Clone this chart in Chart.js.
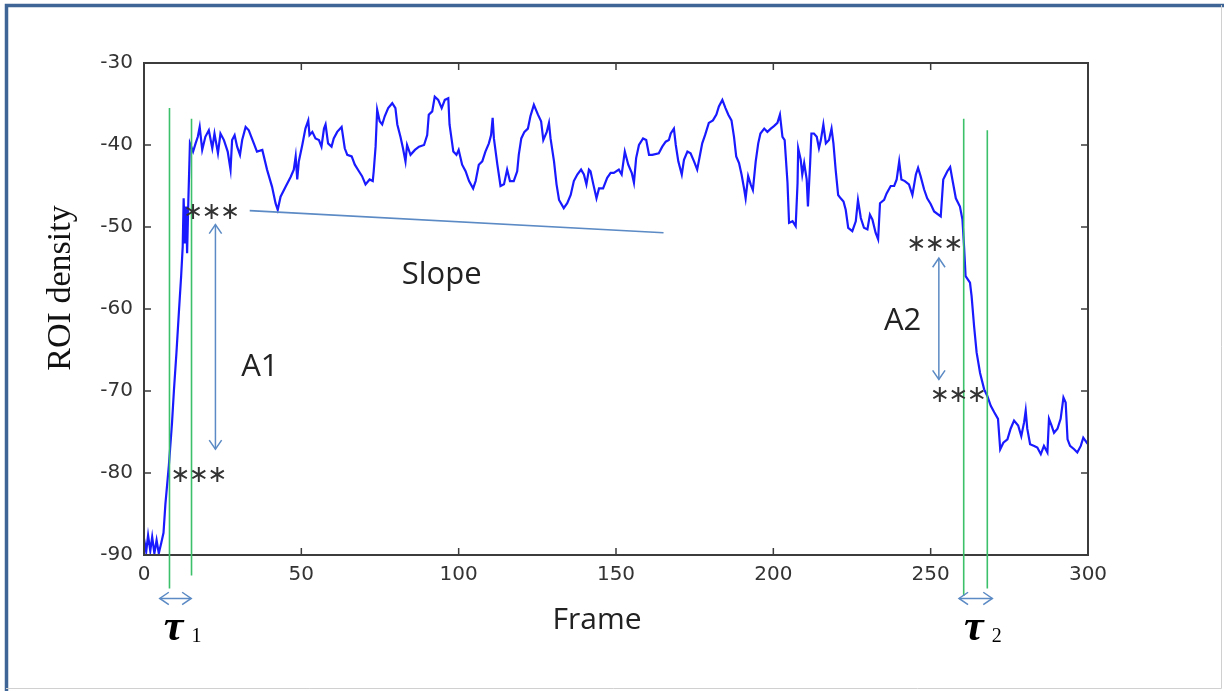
<!DOCTYPE html>
<html>
<head>
<meta charset="utf-8">
<script src="https://cdn.jsdelivr.net/npm/chart.js@4.4.0/dist/chart.umd.min.js"></script>
<style>
  html, body { margin: 0; padding: 0; background: #fff; }
  canvas { display: block; }
</style>
</head>
<body>
<canvas id="roi" width="1226" height="691"></canvas>
<script>
// ROI density trace (frame, value)
const frames = [
  0, 0.7, 1.3, 2, 2.6, 3.3, 4, 4.7, 5.5, 6.2, 6.8, 7.9, 8.9, 9.5, 10.3, 11.1, 11.8, 12.3, 12.6, 13.0,
  13.4, 13.7, 14.1, 14.6, 15.6, 16.4, 17.1, 17.7, 18.5, 19.5, 20.6, 21.7, 22.4, 23.5, 24.3, 25.4, 26.6, 27.5, 28, 28.8,
  29.6, 30.5, 31.2, 32.3, 33.3, 34.9, 35.9, 37.6, 39.1, 40.7, 41.8, 42.5, 43.4, 45, 46.6, 47.6, 48.2, 48.7, 49.2, 50.3,
  51.3, 52.2, 52.6, 53.5, 54.5, 55.6, 56.4, 57.2, 57.7, 58.5, 59.6, 60.3, 61.4, 62.8, 63.8, 64.6, 66, 67, 68.3, 69.3,
  70.4, 71.7, 72.7, 73, 73.6, 74.1, 74.9, 75.7, 76.5, 77.6, 78.9, 79.9, 80.5, 81.5, 82.3, 83.1, 83.6, 84.7, 86.1, 87.4,
  89, 90, 90.5, 91.6, 92.4, 93.5, 94.6, 95.6, 96.7, 97.1, 98.3, 99.3, 100, 101.1, 102.2, 103.3, 104.6, 105.4, 106.4, 107.5,
  108.5, 109.6, 110.3, 110.8, 111.2, 112.3, 113.3, 114.4, 115.4, 116.3, 117.5, 118.6, 119.1, 119.9, 120.9, 122, 122.8, 123.9, 125.2, 126.2,
  126.9, 128, 128.7, 129.2, 130.3, 131.1, 131.9, 133.4, 134.5, 135.6, 136.6, 137.7, 138.9, 139.8, 140.6, 141.4, 141.9, 142.8, 143.8, 144.6,
  145.9, 147.2, 148.3, 149.3, 150.9, 151.8, 152.8, 153.9, 155, 155.7, 156.4, 157.3, 158.6, 159.6, 160.5, 161.5, 163.6, 164.7, 165.8, 166.8,
  167.4, 168.4, 169, 169.8, 170.9, 171.6, 172.7, 173.7, 174.8, 175.8, 176.6, 177.4, 178.3, 179.5, 180.8, 181.9, 182.7, 183.8, 184.8, 185.7,
  186.7, 187.5, 188.2, 189.1, 189.9, 190.7, 191.2, 192, 192.8, 193.5, 194.4, 195.2, 195.9, 197.1, 198.1, 199.2, 200.2, 201.3, 202.1, 202.9,
  203.6, 204.5, 205, 206.1, 207.1, 207.7, 207.9, 208.7, 209.2, 209.8, 210.6, 211, 211.7, 212.1, 212.9, 213.8, 214.5, 215.1, 215.9, 216.7,
  217.7, 218.5, 219.1, 219.8, 220.6, 221.4, 222.3, 223, 223.8, 225.1, 226.2, 226.9, 227.8, 228.8, 229.9, 230.7, 231.5, 232.5, 233.3, 233.9,
  235.2, 236, 237.3, 238.4, 239.2, 240, 240.7, 241.8, 243.1, 244.2, 245.3, 246, 246.8, 247.9, 248.9, 250, 251.1, 253.2, 254, 255.3,
  256.2, 256.9, 258, 259.3, 260.1, 260.6, 261.1, 262.5, 263, 263.8, 264.6, 265.7, 267, 268, 269.1, 270.2, 271.4, 272.1, 273.1, 274.4,
  275.4, 276.5, 277.8, 278.8, 279.7, 280.2, 280.7, 281.6, 282.9, 283.9, 285, 286, 287.1, 287.6, 288.4, 289.2, 290.3, 291.3, 292.2, 292.9,
  293.5, 294.3, 295.6, 296.6, 297.7, 298.5, 299.6, 300
];
const density = [
  -88, -89.6, -87.6, -89.5, -87.8, -89.8, -88.2, -89.8, -88.5, -87.3, -83.8, -79.1, -73.9, -70, -65.4, -60.3, -56, -52.4, -46.5, -52,
  -47.5, -53.2, -46.7, -39.8, -40.8, -39.8, -39, -37.8, -40.6, -39, -38.2, -40.4, -38.6, -41, -38.6, -39.4, -40.8, -43, -39.4, -38.8,
  -40.2, -41.2, -39.4, -37.8, -38.2, -39.8, -40.8, -40.6, -43, -45.1, -47.1, -47.9, -46.3, -45.1, -43.9, -43, -41.4, -44.2, -42, -40,
  -38, -37, -38.8, -38.4, -39.2, -39.4, -40.2, -38, -37.5, -39.8, -40.2, -39.2, -38.4, -37.8, -40.4, -41.2, -41.4, -42.4, -43.2, -43.8,
  -44.8, -44.2, -44.4, -43.2, -40.2, -35.7, -37.1, -37.5, -36.5, -35.5, -34.9, -35.5, -37.5, -39, -40.4, -42, -40, -41.2, -40.6, -40.2,
  -40, -38.8, -36.3, -35.9, -34.1, -34.5, -35.5, -34.5, -34.3, -37.5, -40.8, -41.2, -40.6, -42.4, -43.2, -44.4, -45.3, -44.4, -42.4, -42,
  -40.8, -39.8, -38.8, -36.7, -39.2, -42.4, -45, -44.8, -43, -44.4, -44.4, -43.2, -41.2, -39.2, -38.4, -38, -36.5, -35.1, -36.3, -37.1,
  -39.4, -38.4, -37.3, -39.2, -42, -44.8, -46.7, -47.7, -47.1, -46.1, -44.4, -43.6, -43, -43.6, -44.8, -43, -43.2, -44.8, -46.5, -45.3,
  -45.3, -44, -43.4, -43.4, -43, -43.6, -40.8, -42.4, -43.4, -44.6, -41.6, -40, -39.2, -39.4, -41.2, -41.2, -41, -40.2, -39.6, -39.4,
  -38.6, -38, -40, -42, -43.6, -41.8, -40.8, -41, -42, -43, -41.4, -39.8, -38.8, -37.3, -37, -36.3, -35.3, -34.5, -35.5, -36.3,
  -37, -39, -41.4, -42.2, -43.6, -45.3, -46.5, -43.8, -44.8, -45.5, -42, -39.8, -38.6, -38, -38.4, -38, -37.7, -37.3, -36.3, -39,
  -39.4, -44.6, -49.5, -49.3, -49.9, -44.6, -40.4, -41.8, -43.6, -42.2, -44.2, -47.5, -42.2, -38.6, -38.6, -39, -40.4, -39.4, -37.5, -39.8,
  -39.4, -38, -39.8, -43, -46.1, -46.5, -46.9, -47.9, -50.1, -50.5, -49.3, -46.7, -48.9, -50.1, -50.3, -48.5, -49.1, -50.7, -51.5, -47.1,
  -46.7, -45.9, -45, -45, -44.2, -42, -44.2, -44.4, -44.8, -46.1, -43.6, -42.8, -43.8, -45.4, -46.5, -47.2, -48.1, -48.7, -44.2, -43.2,
  -42.7, -44.2, -46.5, -47.5, -49.1, -52.3, -56, -56.8, -58.4, -62.1, -65.3, -67.8, -69.8, -70.6, -71.8, -72.6, -73.4, -77.1, -76.3, -75.9,
  -74.6, -73.6, -74.2, -75.5, -73.8, -72.4, -74.6, -76.5, -76.7, -76.9, -77.7, -76.7, -77.5, -73.4, -74.2, -75.1, -74.6, -73.4, -70.8, -71.4,
  -75.9, -76.7, -77.1, -77.5, -76.7, -75.7, -76.3, -76.1
];
const xTicks = [0, 50, 100, 150, 200, 250, 300];
const yTicks = [-90, -80, -70, -60, -50, -40, -30];

// annotation anchors in data units
const tauLines = [
  { frame: 8.1, from: -35.5, to: -94.1 },
  { frame: 15.1, from: -36.8, to: -92.5 },
  { frame: 260.5, from: -36.8, to: -95.0 },
  { frame: 268.0, from: -38.2, to: -94.1 }
];
const tauArrows = [
  { from: 5.0, to: 15.0, at: -95.3, label: '1' },
  { from: 259.0, to: 269.6, at: -95.3, label: '2' }
];
const slopeLine = { x0: 33.6, y0: -48.0, x1: 165.1, y1: -50.7 };
const ampArrows = [
  { frame: 22.7, from: -49.7, to: -77.1 },
  { frame: 252.6, from: -53.8, to: -68.6 }
];
const stars = [
  { frame: 21.5, value: -48.1 },
  { frame: 17.4, value: -80.2 },
  { frame: 251.3, value: -52.1 },
  { frame: 258.8, value: -70.4 }
];
const labels = [
  { text: 'Slope', frame: 94.6, value: -55.9 },
  { text: 'A1', frame: 36.8, value: -67.1 },
  { text: 'A2', frame: 241.1, value: -61.5 }
];

const points = frames.map((f, i) => ({ x: f, y: density[i] }));

const ARROW_BLUE = '#5b8ac4';
const GREEN = '#3cc06a';

function arrowHead(ctx, x, y, ang) {
  const len = 11, spread = 0.6;
  ctx.beginPath();
  ctx.moveTo(x - len * Math.cos(ang - spread), y - len * Math.sin(ang - spread));
  ctx.lineTo(x, y);
  ctx.lineTo(x - len * Math.cos(ang + spread), y - len * Math.sin(ang + spread));
  ctx.stroke();
}

function doubleArrow(ctx, x0, y0, x1, y1) {
  ctx.beginPath();
  ctx.moveTo(x0, y0);
  ctx.lineTo(x1, y1);
  ctx.stroke();
  const ang = Math.atan2(y1 - y0, x1 - x0);
  arrowHead(ctx, x1, y1, ang);
  arrowHead(ctx, x0, y0, ang + Math.PI);
}

const decor = {
  id: 'decor',
  beforeDraw(chart) {
    const ctx = chart.ctx;
    ctx.save();
    ctx.fillStyle = '#fff';
    ctx.fillRect(0, 0, chart.width, chart.height);
    ctx.restore();
  },
  afterDraw(chart) {
    const ctx = chart.ctx;
    const xs = chart.scales.x, ys = chart.scales.y;
    const a = chart.chartArea;
    ctx.save();

    // axes box with inward ticks
    ctx.strokeStyle = '#3c3c3c';
    ctx.lineWidth = 2;
    ctx.strokeRect(a.left, a.top, a.right - a.left, a.bottom - a.top);
    ctx.lineWidth = 1.5;
    ctx.beginPath();
    xTicks.forEach(v => {
      const px = xs.getPixelForValue(v);
      ctx.moveTo(px, a.bottom); ctx.lineTo(px, a.bottom - 7);
      ctx.moveTo(px, a.top); ctx.lineTo(px, a.top + 7);
    });
    yTicks.forEach(v => {
      const py = ys.getPixelForValue(v);
      ctx.moveTo(a.left, py); ctx.lineTo(a.left + 7, py);
      ctx.moveTo(a.right, py); ctx.lineTo(a.right - 7, py);
    });
    ctx.stroke();

    // tau boundary lines
    ctx.strokeStyle = GREEN;
    ctx.lineWidth = 1.6;
    tauLines.forEach(l => {
      const px = xs.getPixelForValue(l.frame);
      ctx.beginPath();
      ctx.moveTo(px, ys.getPixelForValue(l.from));
      ctx.lineTo(px, ys.getPixelForValue(l.to));
      ctx.stroke();
    });

    // slope line
    ctx.strokeStyle = ARROW_BLUE;
    ctx.lineWidth = 1.6;
    ctx.beginPath();
    ctx.moveTo(xs.getPixelForValue(slopeLine.x0), ys.getPixelForValue(slopeLine.y0));
    ctx.lineTo(xs.getPixelForValue(slopeLine.x1), ys.getPixelForValue(slopeLine.y1));
    ctx.stroke();

    // amplitude arrows
    ctx.lineWidth = 1.5;
    ampArrows.forEach(r => {
      const px = xs.getPixelForValue(r.frame);
      doubleArrow(ctx, px, ys.getPixelForValue(r.from), px, ys.getPixelForValue(r.to));
    });

    // tau arrows and labels
    tauArrows.forEach(r => {
      const py = ys.getPixelForValue(r.at);
      const x0 = xs.getPixelForValue(r.from), x1 = xs.getPixelForValue(r.to);
      ctx.strokeStyle = ARROW_BLUE;
      doubleArrow(ctx, x0, py, x1, py);
      const mid = (x0 + x1) / 2;
      ctx.fillStyle = '#000';
      ctx.textAlign = 'center';
      ctx.textBaseline = 'alphabetic';
      ctx.font = 'italic bold 44px "Liberation Serif"';
      ctx.fillText('\u03c4', mid - 2, py + 42);
      ctx.font = '20px "Liberation Serif"';
      ctx.fillText(r.label, mid + 21, py + 44);
    });

    // asterisk groups
    ctx.fillStyle = '#333';
    ctx.font = '24px "DejaVu Sans"';
    ctx.textAlign = 'center';
    ctx.textBaseline = 'middle';
    stars.forEach(s => {
      const px = xs.getPixelForValue(s.frame), py = ys.getPixelForValue(s.value);
      [-18.5, 0, 18.5].forEach(dx => ctx.fillText('\u2217', px + dx, py + 1));
    });

    // text labels
    ctx.fillStyle = '#222';
    ctx.font = '31px "Open Sans"';
    labels.forEach(l => {
      ctx.fillText(l.text, xs.getPixelForValue(l.frame), ys.getPixelForValue(l.value));
    });

    // axis titles
    ctx.font = '30px "Open Sans"';
    ctx.fillText('Frame', (a.left + a.right) / 2 - 19, 620);
    ctx.save();
    ctx.translate(61, 288);
    ctx.rotate(-Math.PI / 2);
    ctx.fillStyle = '#111';
    ctx.font = '34px "Liberation Serif"';
    ctx.fillText('ROI density', 0, 0);
    ctx.restore();

    // outer frame
    ctx.strokeStyle = '#3f6597';
    ctx.lineWidth = 3.5;
    ctx.beginPath();
    ctx.moveTo(6.5, 691);
    ctx.lineTo(6.5, 5.5);
    ctx.lineTo(1224, 5.5);
    ctx.stroke();
    ctx.strokeStyle = '#d0d0d0';
    ctx.lineWidth = 1;
    ctx.beginPath();
    ctx.moveTo(1221.5, 5);
    ctx.lineTo(1221.5, 688.5);
    ctx.lineTo(6, 688.5);
    ctx.stroke();

    ctx.restore();
  }
};

new Chart(document.getElementById('roi'), {
  type: 'line',
  data: {
    datasets: [{
      data: points,
      borderColor: '#1a1aff',
      borderWidth: 2.2,
      pointRadius: 0,
      tension: 0,
      fill: false
    }]
  },
  options: {
    responsive: false,
    animation: false,
    devicePixelRatio: 1,
    layout: { padding: { left: 0, top: 63, right: 138, bottom: 0 } },
    plugins: { legend: { display: false }, tooltip: { enabled: false } },
    scales: {
      x: {
        type: 'linear',
        min: 0, max: 300,
        afterBuildTicks: s => { s.ticks = xTicks.map(v => ({ value: v })); },
        afterFit: s => { s.height = 136; },
        grid: { display: false, drawTicks: false },
        border: { display: false },
        ticks: { padding: 8, color: '#333', font: { family: 'DejaVu Sans', size: 20 }, maxRotation: 0 }
      },
      y: {
        type: 'linear',
        min: -90, max: -30,
        afterBuildTicks: s => { s.ticks = yTicks.map(v => ({ value: v })); },
        afterFit: s => { s.width = 144; },
        grid: { display: false, drawTicks: false },
        border: { display: false },
        ticks: { padding: 11, color: '#333', font: { family: 'DejaVu Sans', size: 20 } }
      }
    }
  },
  plugins: [decor]
});
</script>
</body>
</html>
